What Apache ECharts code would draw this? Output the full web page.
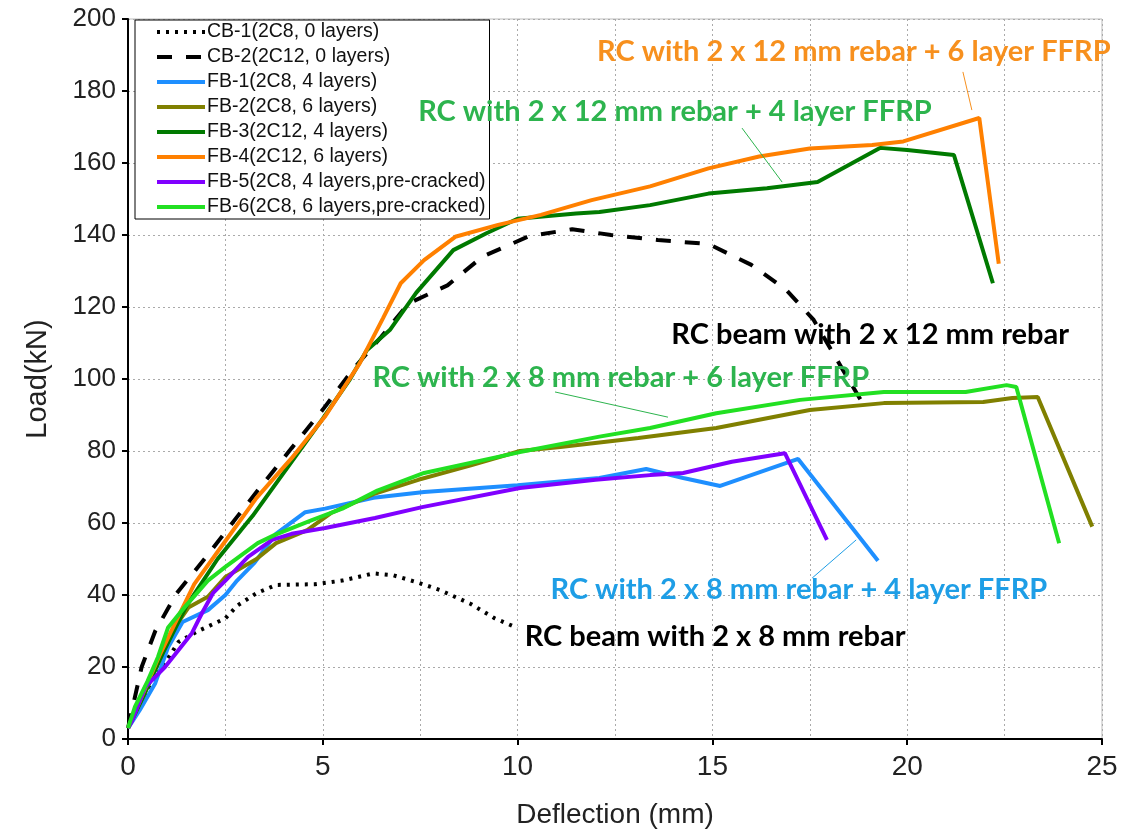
<!DOCTYPE html>
<html>
<head>
<meta charset="utf-8">
<script src="https://cdn.jsdelivr.net/npm/echarts@6/dist/echarts.min.js"></script>
<style>
html, body { margin: 0; padding: 0; background: #fff; }
#loadChart { width: 1138px; height: 831px; }
</style>
</head>
<body>
<div id="loadChart"></div>
<script>
// deflection (mm), load (kN) pairs
const cb1 = [[0, 3], [0.5, 14], [1, 22], [1.3, 27], [1.8, 30], [2.5, 33.5], [2.8, 37], [3.3, 40.5], [3.8, 42.8], [4.8, 43], [5.5, 44], [6.3, 46], [6.8, 45.5], [7.4, 43.6], [8, 41.4], [8.8, 37.5], [9.4, 33.6], [10, 30.8]]
const cb2 = [[0, 3], [0.35, 20], [0.7, 30], [1.25, 40.5], [2, 50.5], [2.8, 61.7], [3.4, 70], [4.2, 80.8], [5, 91.5], [5.8, 103], [6.5, 111.7], [7.2, 121], [8.2, 126], [9.1, 134], [10.3, 139.7], [11.4, 141.6], [12.4, 140], [13.6, 138.6], [14.9, 137.5], [16, 131.7], [16.9, 124.7], [17.6, 116.4], [18.35, 102.5], [18.9, 92.5]]
const fb1 = [[0, 3], [0.3, 8], [0.7, 15.5], [1.03, 25.5], [1.4, 32.5], [2.05, 35.8], [2.5, 40], [2.8, 44], [3.25, 49], [3.8, 57], [4.55, 63], [5.06, 64], [6.3, 67], [7.6, 68.6], [10, 70.5], [12.1, 72.5], [13.3, 75], [14.25, 72.5], [15.2, 70.3], [17.2, 77.8], [19.25, 49.5]]
const fb2 = [[0, 3], [0.4, 12], [0.8, 22], [1.2, 31], [1.55, 36.5], [2.05, 39.5], [2.5, 45], [3.3, 50], [3.8, 54.4], [4.6, 58], [5.2, 62.7], [6.3, 68], [7.45, 72], [8.8, 76], [10.06, 80], [11.1, 81.1], [13.1, 83.6], [15.1, 86.4], [17.5, 91.4], [19.4, 93.3], [21.95, 93.6], [22.7, 94.7], [23.35, 95], [24.75, 59]]
const fb3 = [[0, 3], [0.4, 12], [0.9, 24], [1.5, 37], [2.3, 50], [3.2, 62], [4, 74], [5, 89], [5.7, 100], [6.13, 108], [6.72, 113.6], [7.4, 124], [8.35, 135.8], [9.2, 140.5], [10, 144.5], [11.5, 146], [12.1, 146.4], [13.4, 148.3], [14.9, 151.5], [16.4, 153], [17.7, 154.7], [19.3, 164.2], [20, 163.6], [21.2, 162.2], [22.2, 126.6]]
const fb4 = [[0, 3], [0.4, 13], [0.8, 23], [1.2, 32], [1.7, 43], [2.5, 55], [3.3, 67], [4.2, 78], [5.05, 89.5], [5.95, 104.4], [6.55, 117], [7, 126.6], [7.6, 133], [8.4, 139.5], [9.5, 142.8], [10.6, 145.6], [11.9, 149.7], [13.4, 153.5], [14.9, 158.5], [16.2, 161.8], [17.5, 164], [19.1, 165], [19.9, 166], [21.85, 172.5], [22.35, 132]]
const fb5 = [[0, 3], [0.1, 5], [0.44, 14.4], [0.95, 20], [1.39, 26], [1.64, 29.4], [1.9, 35], [2.18, 40.5], [2.5, 44], [3.08, 50.6], [3.7, 55.3], [4.2, 57], [5.06, 58.6], [6.34, 61.4], [7.55, 64.4], [10.06, 69.7], [12, 72], [13.4, 73.3], [14.25, 73.9], [15.5, 77], [16.86, 79.4], [17.94, 55.3]]
const fb6 = [[0, 3], [0.18, 9], [0.5, 16], [0.77, 22.8], [1.03, 31], [1.46, 36.7], [2.05, 44], [2.5, 47.8], [3.33, 54.4], [3.77, 56.7], [4.72, 60.8], [5.5, 64], [6.4, 69], [7.6, 73.9], [10.06, 79.7], [12.1, 84], [13.4, 86.4], [15.1, 90.5], [17.25, 94.2], [19.4, 96.4], [21.5, 96.4], [22.55, 98.3], [22.8, 97.8], [23.9, 54.4]]

const seriesNames = ['CB-1(2C8, 0 layers)', 'CB-2(2C12, 0 layers)', 'FB-1(2C8, 4 layers)', 'FB-2(2C8, 6 layers)', 'FB-3(2C12, 4 layers)', 'FB-4(2C12, 6 layers)', 'FB-5(2C8, 4 layers,pre-cracked)', 'FB-6(2C8, 6 layers,pre-cracked)']

// annotation text, anchor in data units, leader line (data units)
const notes = [
  { text: 'RC with 2 x 12 mm rebar + 6 layer FFRP', at: [18.63, 190.8], color: '#F7901E', lead: [[21.43, 185.3], [21.66, 174.7]] },
  { text: 'RC with 2 x 12 mm rebar + 4 layer FFRP', at: [14.04, 174.2], color: '#2DB44E', lead: [[15.76, 169.7], [16.79, 154.7]] },
  { text: 'RC beam with 2 x 12 mm rebar', at: [19.05, 112.2], color: '#000', lead: null },
  { text: 'RC with 2 x 8 mm rebar + 6 layer FFRP', at: [12.65, 100.3], color: '#2DB44E', lead: [[10.96, 96.4], [13.86, 89.4]] },
  { text: 'RC with 2 x 8 mm rebar + 4 layer FFRP', at: [17.22, 41.4], color: '#1E9EE6', lead: [[17.56, 44.7], [18.69, 55.3]] },
  { text: 'RC beam with 2 x 8 mm rebar', at: [15.07, 28.3], color: '#000', lead: null }
]

const narrow = '"Liberation Sans Narrow", "Arial Narrow", sans-serif'
const chart = echarts.init(document.getElementById('loadChart'))

function lineSeries(name, data, color, width, type) {
  return {
    name: name,
    type: 'line',
    data: data,
    symbol: 'none',
    smooth: false,
    animation: false,
    lineStyle: { color: color, width: width, type: type || 'solid', cap: 'butt' },
    itemStyle: { color: color }
  }
}

const option = {
  animation: false,
  backgroundColor: '#fff',
  grid: {
    left: 128,
    right: 36,
    top: 19,
    bottom: 92,
    outerBoundsMode: 'none',
    show: true,
    borderColor: '#bbb',
    borderWidth: 1
  },
  legend: {
    orient: 'vertical',
    left: 135,
    top: 20,
    padding: [2, 4, 2, 20],
    itemGap: 5,
    itemWidth: 48,
    itemHeight: 14,
    borderColor: '#000',
    borderWidth: 1,
    backgroundColor: '#fff',
    itemStyle: { opacity: 0 },
    lineStyle: { width: 4 },
    textStyle: { fontFamily: 'Liberation Sans, Arial', fontSize: 19.5, lineHeight: 18, color: '#111', padding: [0, 0, 0, -3] },
    data: seriesNames
  },
  xAxis: {
    type: 'value',
    min: 0,
    max: 25,
    interval: 5,
    name: 'Deflection (mm)',
    nameLocation: 'middle',
    nameGap: 62,
    nameTextStyle: { fontFamily: narrow, fontSize: 28, color: '#222' },
    axisLine: { onZero: false, lineStyle: { color: '#000', width: 2 } },
    axisTick: { length: 6, lineStyle: { color: '#000', width: 2 } },
    axisLabel: { margin: 14, fontFamily: narrow, fontSize: 28, color: '#222' },
    splitLine: { show: true, lineStyle: { color: '#aaa', width: 1, type: [2, 3] } },
    minorTick: { show: false, splitNumber: 2 },
    minorSplitLine: { show: true, lineStyle: { color: '#aaa', width: 1, type: [2, 3] } }
  },
  yAxis: {
    type: 'value',
    min: 0,
    max: 200,
    interval: 20,
    name: 'Load(kN)',
    nameLocation: 'middle',
    nameGap: 76,
    nameTextStyle: { fontFamily: 'Liberation Sans, Arial', fontSize: 29, color: '#222' },
    axisLine: { show: true, onZero: false, lineStyle: { color: '#000', width: 2 } },
    axisTick: { show: true, length: 6, lineStyle: { color: '#000', width: 2 } },
    axisLabel: { margin: 12, fontFamily: 'Liberation Sans, Arial', fontSize: 26, color: '#222' },
    splitLine: { show: true, lineStyle: { color: '#aaa', width: 1, type: [2, 3] } }
  },
  series: [
    lineSeries(seriesNames[0], cb1, '#000', 4, [3, 6]),
    lineSeries(seriesNames[1], cb2, '#000', 4, [15, 14]),
    lineSeries(seriesNames[2], fb1, '#1E8FFF', 4),
    lineSeries(seriesNames[3], fb2, '#808000', 4),
    lineSeries(seriesNames[4], fb3, '#007A00', 4),
    lineSeries(seriesNames[5], fb4, '#FF8000', 4),
    lineSeries(seriesNames[6], fb5, '#8000FF', 4),
    lineSeries(seriesNames[7], fb6, '#22E022', 4)
  ]
}

chart.setOption(option)

// annotations placed through the chart's own coordinate conversion
function drawNotes() {
  const elements = []
  notes.forEach(n => {
    if (n.lead) {
      const p1 = chart.convertToPixel({ gridIndex: 0 }, n.lead[0])
      const p2 = chart.convertToPixel({ gridIndex: 0 }, n.lead[1])
      elements.push({
        type: 'line',
        z: 50,
        shape: { x1: p1[0], y1: p1[1], x2: p2[0], y2: p2[1] },
        style: { stroke: n.color, lineWidth: 1 }
      })
    }
    const p = chart.convertToPixel({ gridIndex: 0 }, n.at)
    elements.push({
      type: 'text',
      z: 60,
      x: p[0],
      y: p[1],
      style: {
        text: n.text,
        fill: n.color,
        font: 'bold 29px Lato, "Open Sans", sans-serif',
        align: 'center',
        verticalAlign: 'middle'
      }
    })
  })
  chart.setOption({ graphic: elements })
}
drawNotes()
</script>
</body>
</html>
